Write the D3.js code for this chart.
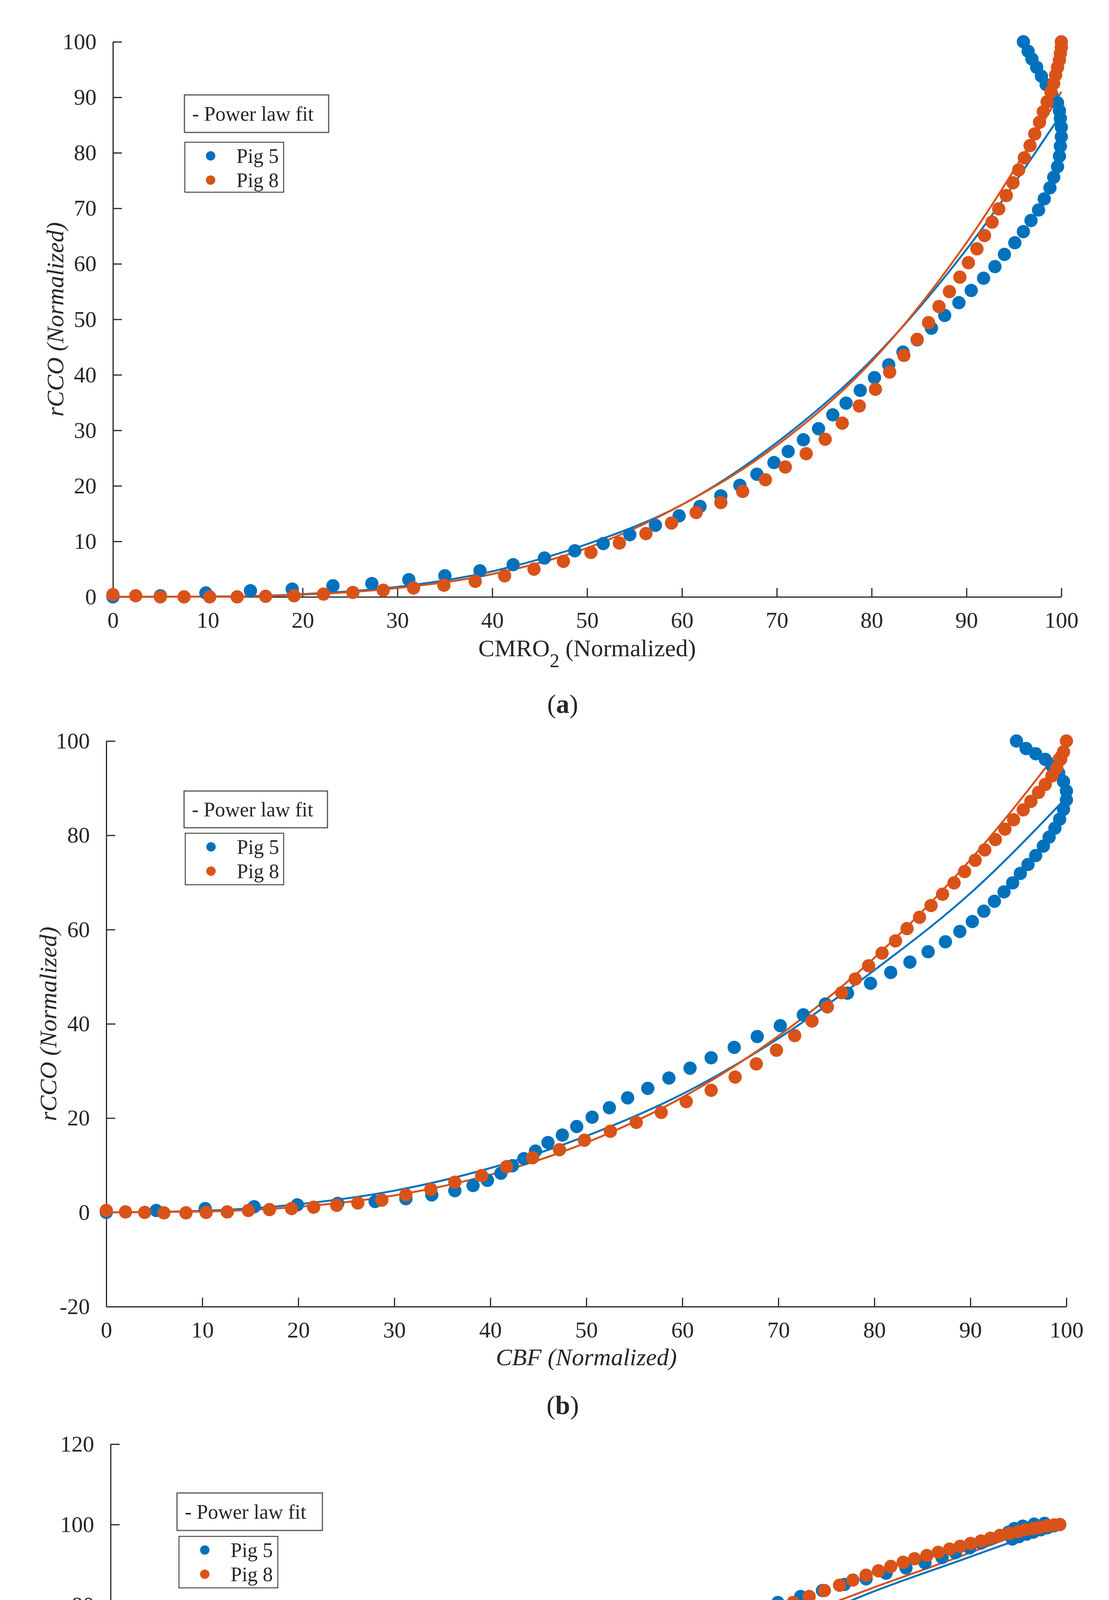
<!DOCTYPE html>
<html>
<head>
<meta charset="utf-8">
<script src="https://cdn.jsdelivr.net/npm/d3@7"></script>
<style>
  html, body { margin: 0; padding: 0; background: #fff; overflow: hidden; }
  svg { display: block; }
  text { font-family: "Liberation Serif", "DejaVu Serif", serif; fill: #262626; }
</style>
</head>
<body>
<svg id="chart" width="2838" height="5466"></svg>
<script>
// ---- data ----
const seriesNames = ['Pig 5', 'Pig 8'];
const fitLabel = '- Power law fit';

// (a) CMRO2 vs rCCO
const aPig5 = [[0,0],[5,0.2],[9.8,0.7],[14.5,1.1],[18.9,1.4],[23.2,2.0],[27.3,2.4],[31.2,3.1],[35,3.8],[38.7,4.7],[42.2,5.8],[45.5,7.0],[48.7,8.3],[51.7,9.6],[54.5,11.2],[57.2,12.9],[59.7,14.6],[61.9,16.3],[64.1,18.2],[66.1,20.1],[67.9,22.1],[69.7,24.2],[71.2,26.2],[72.8,28.3],[74.4,30.3],[75.9,32.8],[77.3,34.9],[78.8,37.2],[80.3,39.5],[81.8,41.8],[83.3,44.1],[84.8,46.3],[86.3,48.4],[87.7,50.7],[89.2,53.0],[90.5,55.2],[91.8,57.4],[93.0,59.5],[94.0,61.7],[95.1,63.8],[96.0,65.8],[96.8,67.8],[97.6,69.7],[98.2,71.7],[98.8,73.7],[99.2,75.6],[99.6,77.5],[99.8,79.4],[99.9,81.2],[100,82.9],[100,84.6],[99.9,86.2],[99.8,87.6],[99.6,89],[99,90.5],[98.4,92.3],[97.9,93.8],[97.4,95.4],[96.9,96.9],[96.5,98.3],[96,100]];
const aPig8 = [[0,0.4],[2.4,0.2],[5,0],[7.5,0],[10.2,0],[13.1,0],[16.1,0.1],[19.1,0.2],[22.2,0.5],[25.3,0.8],[28.5,1.2],[31.7,1.6],[34.9,2.1],[38.2,2.8],[41.3,3.8],[44.4,5.0],[47.5,6.4],[50.4,8.0],[53.4,9.7],[56.2,11.4],[58.9,13.3],[61.5,15.2],[64.1,17],[66.4,19],[68.8,21.1],[70.9,23.4],[73.1,25.8],[75.1,28.4],[76.9,31.3],[78.7,34.4],[80.4,37.4],[81.9,40.5],[83.4,43.5],[84.8,46.4],[86,49.4],[87.1,52.3],[88.2,55],[89.3,57.6],[90.2,60.2],[91.1,62.7],[91.9,65.1],[92.7,67.5],[93.4,69.9],[94.2,72.3],[94.9,74.6],[95.5,76.9],[96.1,79.1],[96.7,81.3],[97.2,83.4],[97.7,85.5],[98.1,87.4],[98.5,89.2],[98.9,91],[99.2,92.5],[99.4,94],[99.6,95.4],[99.8,96.7],[99.9,97.9],[100,99],[100,100]];
const aFit5 = [[0,0],[10,0.05],[20,0.5],[30,1.8],[40,4.6],[50,9.5],[60,16.6],[70,27.8],[80,42.7],[90,62.6],[100,87]];
const aFit8 = [[0,0],[10,0.04],[20,0.4],[30,1.6],[40,4.1],[50,8.8],[60,16.6],[70,27.3],[80,42.4],[90,63.8],[100,91]];

// (b) CBF vs rCCO
const bPig5 = [[0,0],[5.2,0.4],[10.3,0.8],[15.4,1.2],[19.9,1.6],[24.1,1.9],[28,2.3],[31.2,2.9],[33.9,3.7],[36.3,4.6],[38.2,5.7],[39.7,6.8],[41.1,8.3],[42.3,9.9],[43.5,11.4],[44.7,13],[46,14.8],[47.5,16.4],[49,18.2],[50.6,20.2],[52.4,22.2],[54.3,24.3],[56.4,26.3],[58.6,28.5],[60.8,30.6],[63,32.8],[65.4,35],[67.8,37.3],[70.2,39.6],[72.6,41.9],[74.9,44.2],[77.2,46.5],[79.6,48.6],[81.7,50.9],[83.7,53.1],[85.6,55.3],[87.4,57.4],[88.9,59.6],[90.2,61.7],[91.4,63.9],[92.5,66],[93.5,68],[94.4,69.9],[95.2,71.9],[96,73.8],[96.8,75.7],[97.6,77.7],[98.2,79.6],[98.8,81.5],[99.3,83.4],[99.7,85.5],[100,87.5],[100,89.4],[99.7,91.4],[99.2,93.2],[98.5,94.7],[97.8,96.1],[96.8,97.3],[95.8,98.4],[94.8,100]];
const bPig8 = [[0,0.4],[2,0.1],[4,0],[6,-0.1],[8.3,-0.1],[10.4,0],[12.6,0.1],[14.8,0.4],[17,0.6],[19.3,0.8],[21.6,1.1],[24,1.5],[26.2,2],[28.7,2.6],[31.2,3.7],[33.8,4.9],[36.3,6.4],[39.1,7.8],[41.7,9.7],[44.4,11.6],[47.2,13.3],[49.8,15.3],[52.5,17.2],[55.2,19.1],[57.8,21.2],[60.4,23.5],[63,25.9],[65.5,28.7],[67.7,31.5],[69.8,34.4],[71.7,37.5],[73.5,40.6],[75.1,43.6],[76.6,46.6],[78,49.5],[79.4,52.3],[80.8,55],[82.2,57.6],[83.4,60.2],[84.7,62.6],[85.9,65.1],[87.1,67.5],[88.3,69.9],[89.4,72.3],[90.5,74.7],[91.5,76.9],[92.6,79.1],[93.6,81.3],[94.5,83.3],[95.5,85.4],[96.3,87.2],[97.1,89.1],[97.8,90.8],[98.5,92.6],[99,94.3],[99.4,96.1],[99.7,97.7],[100,100]];
const bFit5 = [[0,0],[10,0.32],[20,1.72],[30,4.6],[40,9.4],[50,16.2],[60,25.1],[70,36.9],[80,51.4],[90,67.7],[100,88]];
const bFit8 = [[0,0],[10,0.17],[20,1.17],[30,3.6],[40,8.0],[50,14.8],[60,24.4],[70,37.4],[80,54.0],[90,74.8],[100,100]];

// (c) CBF vs CMRO2
const cPig5 = [[5.2,5.0],[10.4,9.9],[15.4,14.5],[20,19.1],[24.2,23.3],[28,27.4],[31.2,31.3],[34.1,35.2],[36.4,38.8],[38.2,42.3],[39.8,45.6],[41.1,48.7],[42.4,51.8],[43.6,54.7],[44.8,57.5],[46.1,59.9],[47.5,62.1],[49.1,64.2],[50.7,66.3],[52.5,68],[54.4,69.8],[56.5,71.4],[58.6,73.1],[60.9,74.6],[63.3,76],[65.6,77.6],[67.9,79.1],[70.3,80.6],[72.7,82.1],[75,83.6],[77.3,85.1],[79.6,86.5],[81.7,87.9],[83.8,89.2],[85.8,90.5],[87.6,91.8],[89,93],[90.5,94.2],[91.7,95.4],[92.7,96.4],[93.7,97.3],[94.6,98.1],[95,96.4],[95.7,97],[96.5,97.6],[97.2,98.1],[98,98.7],[98.7,99.2],[99.4,99.7],[100,100],[95.2,99],[96.1,99.6],[97.3,100.1],[98.4,100.3]];
const cPig8 = [[0,0],[2,2.4],[4,4.9],[6.1,7.6],[8.2,10.3],[10.4,13.3],[12.6,16.2],[14.8,19.3],[17.1,22.2],[19.3,25.4],[21.6,28.6],[23.9,31.9],[26.3,35],[28.7,38.2],[31.2,41.4],[33.8,44.5],[36.4,47.5],[39.1,50.6],[41.8,53.4],[44.5,56.4],[47.2,59],[49.9,61.7],[52.5,64.1],[55.2,66.6],[58,68.9],[60.6,71.2],[63.2,73.3],[65.6,75.2],[67.9,77.2],[70,79],[71.9,80.6],[73.6,82.1],[75.2,83.6],[76.8,84.9],[78.2,86.2],[79.6,87.4],[80.9,88.5],[82.2,89.6],[83.5,90.6],[84.7,91.5],[86,92.3],[87.2,93.1],[88.4,93.9],[89.5,94.6],[90.6,95.3],[91.7,95.9],[92.7,96.6],[93.7,97.3],[94.7,97.8],[95.6,98.2],[96.3,98.7],[97.2,99],[97.9,99.3],[98.7,99.7],[99.4,99.9],[100,100]];
const cFit5 = [[0,-9.4],[0.5,-4],[1,-1.5],[2,1.5],[5,6.5],[10,13],[20,25.5],[30,36],[40,46],[50,55],[60,64],[70,73],[80,83],[90,91.5],[100,100]];
const cFit8 = [[0,-5.5],[0.5,-1],[1,1],[2,4],[5,9.5],[10,15.5],[20,28],[30,38.5],[40,48.5],[50,57.5],[60,66],[70,75],[80,84],[90,92.5],[100,101.5]];

const aYTicks = d3.range(0, 101, 10);
const bYTicks = d3.range(-20, 101, 20);
const cYTicks = d3.range(-20, 121, 20);
const xTicks = d3.range(0, 101, 10);

// ---- layout ----
const colors = ['#0072BD', '#D95319'];
const svg = d3.select('#chart');

const panels = [
  { pts: [aPig5, aPig8], fits: [aFit5, aFit8], yDomain: [0, 100], yTicks: aYTicks,
    x0: 289, x1: 2716, yTop: 107, yBot: 1528,
    xLabel: ['CMRO', '2', ' (Normalized)'], xItalic: false, xLabelY: 1680,
    yLabel: ['rCCO (Normalized)'], yLabelX: 140, tag: 'a', tagY: 1825,
    leg1: [472, 243, 369, 96], leg2: [473, 364, 253, 128] },
  { pts: [bPig5, bPig8], fits: [bFit5, bFit8], yDomain: [-20, 100], yTicks: bYTicks,
    x0: 272, x1: 2729, yTop: 1897, yBot: 3345,
    xLabel: ['CBF (Normalized)'], xItalic: true, xLabelY: 3495,
    yLabel: ['rCCO (Normalized)'], yLabelX: 122, tag: 'b', tagY: 3620,
    leg1: [471, 2025, 367, 94], leg2: [474, 2133, 252, 132] },
  { pts: [cPig5, cPig8], fits: [cFit5, cFit8], yDomain: [-20, 120], yTicks: cYTicks,
    x0: 283, x1: 2712, yTop: 3697, yBot: 5138,
    xLabel: ['CBF (Normalized)'], xItalic: true, xLabelY: 5290,
    yLabel: ['CMRO', '2', ' (Normalized)'], yLabelX: 104, tag: 'c', tagY: 5410,
    leg1: [453, 3822, 372, 96], leg2: [458, 3933, 253, 132] }
];

function addLabel(sel, parts) {
  parts.forEach((p, i) => {
    const t = sel.append('tspan').text(p);
    if (i === 1) t.attr('baseline-shift', 'sub').attr('font-size', '0.8em');
  });
}

panels.forEach(p => {
  const x = d3.scaleLinear().domain([0, 100]).range([p.x0, p.x1]);
  const y = d3.scaleLinear().domain(p.yDomain).range([p.yBot, p.yTop]);
  const g = svg.append('g');

  // axes (MATLAB style, ticks inward, box off); plain hyphen for negatives
  const fmt = d => String(d);
  const xa = g.append('g').attr('transform', `translate(0,${p.yBot})`)
    .call(d3.axisBottom(x).tickValues(xTicks).tickFormat(fmt).tickSizeInner(-23).tickSizeOuter(0).tickPadding(38));
  const ya = g.append('g').attr('transform', `translate(${p.x0},0)`)
    .call(d3.axisLeft(y).tickValues(p.yTicks).tickFormat(fmt).tickSizeInner(-23).tickSizeOuter(0).tickPadding(42));
  [xa, ya].forEach(a => {
    a.selectAll('path, line').attr('stroke', '#262626').attr('stroke-width', 3);
    a.selectAll('text').attr('font-size', 58).attr('fill', '#262626')
      .attr('font-family', '"Liberation Serif", serif');
  });

  // fit curves
  const line = d3.line().x(d => x(d[0])).y(d => y(d[1])).curve(d3.curveMonotoneX);
  p.fits.forEach((f, i) => {
    g.append('path').datum(f).attr('d', line)
      .attr('fill', 'none').attr('stroke', colors[i]).attr('stroke-width', 5);
  });

  // points
  p.pts.forEach((s, i) => {
    g.append('g').selectAll('circle').data(s).join('circle')
      .attr('cx', d => x(d[0])).attr('cy', d => y(d[1])).attr('r', 17)
      .attr('fill', colors[i]);
  });

  // axis labels
  const xl = g.append('text').attr('x', (p.x0 + p.x1) / 2).attr('y', p.xLabelY)
    .attr('text-anchor', 'middle').attr('font-size', 62)
    .attr('font-style', p.xItalic ? 'italic' : 'normal');
  addLabel(xl, p.xLabel);
  const yl = g.append('text')
    .attr('transform', `translate(${p.yLabelX},${(p.yTop + p.yBot) / 2}) rotate(-90)`)
    .attr('text-anchor', 'middle').attr('dy', '0.35em').attr('font-size', 62)
    .attr('font-style', 'italic');
  addLabel(yl, p.yLabel);

  // panel tag
  const tg = g.append('text').attr('x', 1440).attr('y', p.tagY)
    .attr('text-anchor', 'middle').attr('font-size', 68);
  tg.append('tspan').text('(');
  tg.append('tspan').attr('font-weight', 'bold').text(p.tag);
  tg.append('tspan').text(')');

  // legends
  const [l1x, l1y, l1w, l1h] = p.leg1;
  g.append('rect').attr('x', l1x).attr('y', l1y).attr('width', l1w).attr('height', l1h)
    .attr('fill', '#fff').attr('stroke', '#555').attr('stroke-width', 3);
  g.append('text').attr('x', l1x + 20).attr('y', l1y + l1h / 2).attr('dy', '0.35em')
    .attr('font-size', 52).text(fitLabel);
  const [l2x, l2y, l2w, l2h] = p.leg2;
  g.append('rect').attr('x', l2x).attr('y', l2y).attr('width', l2w).attr('height', l2h)
    .attr('fill', '#fff').attr('stroke', '#262626').attr('stroke-width', 2);
  seriesNames.forEach((n, i) => {
    const cy = l2y + 35 + i * 62;
    g.append('circle').attr('cx', l2x + 66).attr('cy', cy).attr('r', 12).attr('fill', colors[i]);
    g.append('text').attr('x', l2x + 132).attr('y', cy).attr('dy', '0.35em')
      .attr('font-size', 52).text(n);
  });
});
</script>
</body>
</html>
